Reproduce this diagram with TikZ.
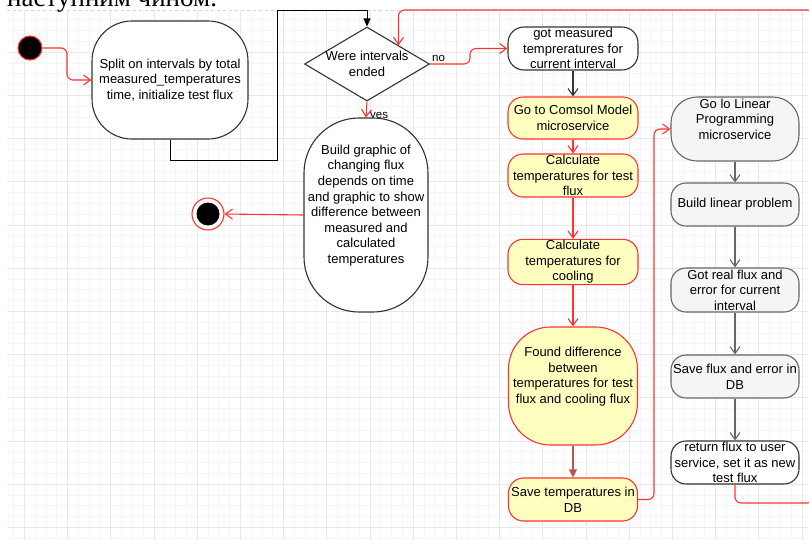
\documentclass[tikz,border=0pt]{standalone}
\usepackage{fontspec}
\setmainfont{Liberation Sans}
\newfontfamily\docfont{Liberation Serif}
\usetikzlibrary{shapes.geometric,arrows.meta,positioning}

\definecolor{flowred}{HTML}{FF3333}
\definecolor{brownred}{HTML}{B85450}
\definecolor{yellowfill}{HTML}{FFFFC0}
\definecolor{greyline}{HTML}{666666}
\definecolor{greyfill}{HTML}{F5F5F5}
\definecolor{darkline}{HTML}{333333}
\definecolor{gridminor}{HTML}{F6F6F6}
\definecolor{gridmajor}{HTML}{E8E8E8}

\tikzset{
  every node/.style={font=\fontsize{13}{15.6}\selectfont, align=center, inner sep=1pt},
  action/.style={draw=darkline, fill=white, line width=1.1pt, rounded corners=#1},
  action/.default=15pt,
  comsolstep/.style={action=#1, draw=flowred, fill=yellowfill},
  comsolstep/.default=15pt,
  lpstep/.style={action=#1, draw=greyline, fill=greyfill},
  lpstep/.default=15pt,
  decision/.style={diamond, draw=darkline, fill=white, line width=1.1pt, inner sep=0pt,
    minimum width=125pt, minimum height=74pt},
  startpoint/.style={circle, draw=flowred, fill=black, line width=1.1pt, minimum size=24pt, inner sep=0pt},
  endpoint/.style={circle, draw=flowred, fill=white, line width=1.1pt, minimum size=32pt, inner sep=0pt,
    path picture={\fill[black] (path picture bounding box.center) circle (11.5pt);}},
  flow/.style={draw=flowred, line width=1.1pt, rounded corners=6pt,
    -{Straight Barb[length=7pt,width=10pt]}},
  lpflow/.style={draw=greyline, line width=1.1pt, -{Straight Barb[length=7pt,width=10pt]}},
  blackflow/.style={draw=black, line width=0.9pt, -{Triangle[length=8pt,width=7pt]}},
  darkflow/.style={draw=brownred, line width=1.1pt, -{Triangle[length=8pt,width=8pt]}},
  edgelabel/.style={font=\fontsize{11.5}{13}\selectfont, inner sep=0pt}
}

\begin{document}
\begin{tikzpicture}[x=1pt, y=-1pt]
  \useasboundingbox (0,0) rectangle (809,539);
  \clip (0,0) rectangle (809,539);

  % grid of the drawing area
  \begin{scope}
    \clip (7,10) rectangle (809,539);
    \draw[gridminor, line width=0.7pt, step=10.8pt, shift={(24.3,9)}] (-30,540) grid (800,-10);
    \draw[gridmajor, line width=0.8pt, step=43.2pt, shift={(24.3,9)}] (-30,540) grid (800,-10);
  \end{scope}
  \draw[gridmajor!80!gray, dashed, line width=0.7pt] (7,10) -- (809,10);

  \node[anchor=base west, font=\docfont\fontsize{27}{30}\selectfont, inner sep=0pt] (heading) at (7,6) {наступним чином.};

  % left part
  \node[startpoint] (start) at (30,48) {};
  \node[action=40pt, minimum width=156pt, minimum height=118pt] (split) at (170,80)
    {Split on intervals by total\\measured\_temperatures\\time, initialize test flux};
  \node[decision, label={[align=center]center:Were intervals\\ended}] (ended) at (367,64) {};
  \node[edgelabel, anchor=south west] (nolbl) at (432,62) {no};
  \node[edgelabel, anchor=west] (yeslbl) at (370,117) {yes};
  \node[action=55pt, minimum width=124pt, minimum height=194pt] (build) at (366,215)
    {Build graphic of\\changing flux\\depends on time\\and graphic to show\\difference between\\measured and\\calculated\\temperatures\\[6pt]};
  \node[endpoint] (stop) at (208,214) {};

  % comsol column
  \node[action=16pt, minimum width=130pt, minimum height=43pt] (got) at (573,48.5)
    {got measured\\tempreratures for\\current interval};
  \node[comsolstep, minimum width=130pt, minimum height=42pt] (comsol) at (573,118)
    {Go to Comsol Model\\microservice};
  \node[comsolstep, minimum width=130pt, minimum height=43pt] (calctest) at (573,175.5)
    {Calculate\\temperatures for test\\flux};
  \node[comsolstep, minimum width=130pt, minimum height=42pt] (calccool) at (573,262)
    {Calculate\\temperatures for\\cooling};
  \node[comsolstep=42pt, minimum width=129pt, minimum height=118pt] (found) at (573,386)
    {Found difference\\between\\temperatures for test\\flux and cooling flux\\[6pt]};
  \node[comsolstep, minimum width=129pt, minimum height=43pt] (savetemp) at (573,499.5)
    {Save temperatures in\\DB};

  % linear programming column
  \node[lpstep=26pt, minimum width=128pt, minimum height=64pt] (linear) at (735,129)
    {Go lo Linear\\Programming\\microservice\\[4pt]};
  \node[lpstep, minimum width=128pt, minimum height=43pt] (buildlp) at (735,204.5)
    {Build linear problem};
  \node[lpstep, minimum width=128pt, minimum height=44pt] (gotreal) at (735,290)
    {Got real flux and\\error for current\\interval};
  \node[lpstep, minimum width=128pt, minimum height=43pt] (saveflux) at (735,376.5)
    {Save flux and error in\\DB};
  \node[action, minimum width=128pt, minimum height=43pt] (ret) at (735,462.5)
    {return flux to user\\service, set it as new\\test flux};

  % connectors
  \draw[flow] (start.east) -- (67,48) -- (67,80) -- (split.west);
  \draw[blackflow] (split.south) -- (170,160) -- (277,160) -- (277,10) -- (367,10) -- (ended.north);
  \draw[flow] (ended.east) -- (470,64) -- (470,48.5) -- (got.west);
  \draw[flow] (ended.south) -- (build.north);
  \draw[flow] (build.west) -- (stop.east);
  \draw[draw=darkline, line width=1.1pt, -{Straight Barb[length=7pt,width=10pt]}] (got) -- (comsol);
  \draw[flow] (comsol) -- (calctest);
  \draw[flow] (calctest) -- (calccool);
  \draw[flow] (calccool) -- (found);
  \draw[darkflow] (found) -- (savetemp);
  \draw[flow] (savetemp.east) -- (654,499.5) -- (654,129) -- (linear.west);
  \draw[lpflow] (linear) -- (buildlp);
  \draw[lpflow] (buildlp) -- (gotreal);
  \draw[lpflow] (gotreal) -- (saveflux);
  \draw[lpflow] (saveflux) -- (ret);
  \draw[flow] (ret.south) -- (735,503) -- (813,503) -- (813,10) -- (ended.north east |- 0,10) -- (ended.north east);
\end{tikzpicture}
\end{document}
